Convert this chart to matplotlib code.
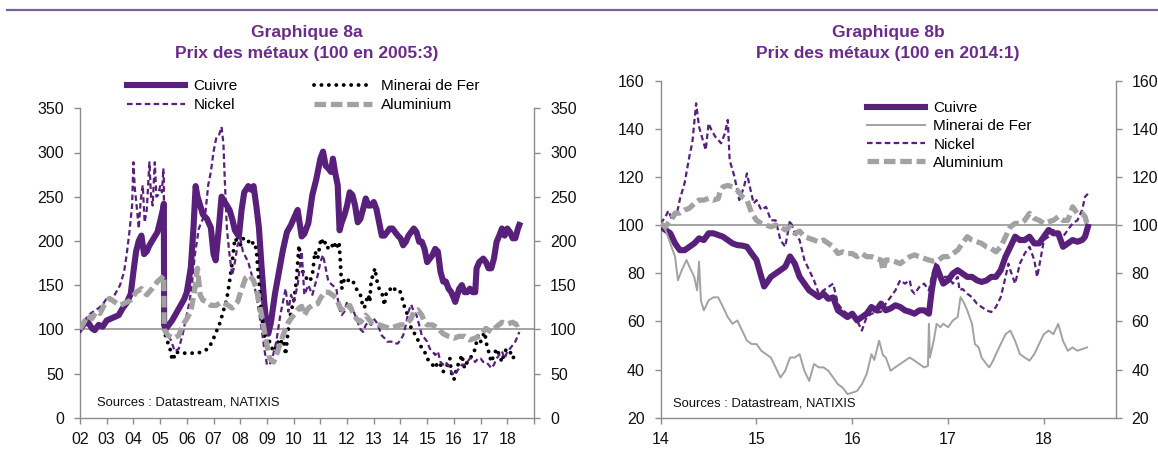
import matplotlib
matplotlib.use("Agg")
import matplotlib.pyplot as plt
from matplotlib.lines import Line2D

plt.rcParams['font.family'] = ['Liberation Sans', 'DejaVu Sans']

# ---------------- Data : Graphique 8a (100 en 2005:3) ----------------
cu_a_t = [2002.0, 2002.15, 2002.3, 2002.45, 2002.55, 2002.7, 2002.85, 2003.0, 2003.15, 2003.3, 2003.45,
          2003.6, 2003.75, 2003.9, 2004.0, 2004.1, 2004.2, 2004.3, 2004.4, 2004.5, 2004.6, 2004.7, 2004.8,
          2004.9, 2005.0, 2005.1, 2005.14, 2005.15, 2005.2, 2005.3, 2005.45, 2005.6, 2005.75, 2005.9,
          2006.0, 2006.15, 2006.25, 2006.33, 2006.4, 2006.5, 2006.6, 2006.75, 2006.9, 2007.0, 2007.08,
          2007.2, 2007.3, 2007.4, 2007.5, 2007.6, 2007.7, 2007.8, 2007.95, 2008.05, 2008.15, 2008.3,
          2008.4, 2008.5, 2008.6, 2008.7, 2008.8, 2008.9, 2009.0, 2009.05, 2009.15, 2009.3, 2009.45,
          2009.6, 2009.75, 2009.9, 2010.0, 2010.15, 2010.3, 2010.4, 2010.55, 2010.7, 2010.85, 2011.0,
          2011.1, 2011.2, 2011.3, 2011.4, 2011.47, 2011.55, 2011.65, 2011.72, 2011.8, 2011.9, 2012.0,
          2012.1, 2012.2, 2012.3, 2012.4, 2012.5, 2012.6, 2012.7, 2012.8, 2012.9, 2013.0, 2013.1, 2013.2,
          2013.3, 2013.4, 2013.5, 2013.6, 2013.7, 2013.8, 2013.9, 2014.0, 2014.1, 2014.2, 2014.3, 2014.4,
          2014.5, 2014.6, 2014.7, 2014.8, 2014.9, 2015.0, 2015.1, 2015.2, 2015.3, 2015.4, 2015.5, 2015.6,
          2015.7, 2015.8, 2015.9, 2016.0, 2016.05, 2016.2, 2016.3, 2016.4, 2016.5, 2016.6, 2016.7,
          2016.8, 2016.85, 2016.95, 2017.1, 2017.2, 2017.3, 2017.4, 2017.5, 2017.6, 2017.7, 2017.8,
          2017.9, 2018.0, 2018.1, 2018.2, 2018.3, 2018.4, 2018.45]
cu_a_v = [100, 106, 108, 101, 99, 105, 103, 110, 112, 114, 116,
          124, 130, 140, 165, 188, 200, 206, 185, 188, 195, 200, 205,
          210, 222, 235, 242, 105, 100, 104, 110, 118, 126, 134,
          142, 170, 215, 262, 250, 240, 230, 225, 215, 185, 178,
          215, 250, 245, 240, 235, 225, 212, 205, 235, 255, 262,
          258, 262, 240, 215, 170, 130, 100, 95, 108, 140, 165,
          190, 210, 218, 225, 235, 205, 208, 220, 252, 270, 293,
          301, 285, 282, 278, 293, 278, 263, 212, 221, 229, 240,
          255, 252, 240, 221, 225, 236, 248, 240, 240, 244, 236, 221,
          206, 206, 210, 214, 214, 210, 206, 203, 195, 199, 206, 210,
          214, 210, 199, 199, 191, 176, 180, 184, 191, 188, 165, 154,
          154, 146, 142, 135, 131, 146, 150, 142, 142, 146, 142,
          142, 169, 176, 180, 176, 169, 169, 180, 199, 206, 214,
          206, 214, 210, 203, 203, 214, 218]

fe_a_t = [2005.2, 2005.3, 2005.4, 2005.45, 2005.5, 2005.6, 2005.7, 2005.85, 2006.0, 2006.2, 2006.4,
          2006.6, 2006.8, 2006.95, 2007.1, 2007.25, 2007.4, 2007.5, 2007.6, 2007.7, 2007.8, 2007.9,
          2008.0, 2008.1, 2008.2, 2008.3, 2008.4, 2008.5, 2008.6, 2008.7, 2008.8, 2008.9, 2009.0,
          2009.1, 2009.2, 2009.3, 2009.4, 2009.5, 2009.6, 2009.7, 2009.8, 2009.9, 2010.0, 2010.1,
          2010.2, 2010.3, 2010.4, 2010.5, 2010.6, 2010.7, 2010.8, 2010.9, 2011.0, 2011.05, 2011.1,
          2011.2, 2011.3, 2011.4, 2011.5, 2011.6, 2011.7, 2011.75, 2011.8, 2011.9, 2012.0, 2012.1,
          2012.2, 2012.3, 2012.4, 2012.5, 2012.55, 2012.65, 2012.7, 2012.8, 2012.85, 2012.9, 2013.0,
          2013.05, 2013.1, 2013.2, 2013.3, 2013.4, 2013.45, 2013.5, 2013.6, 2013.7, 2013.8, 2013.9,
          2014.0, 2014.1, 2014.2, 2014.3, 2014.4, 2014.5, 2014.6, 2014.7, 2014.8, 2014.9, 2015.0,
          2015.1, 2015.2, 2015.3, 2015.4, 2015.5, 2015.6, 2015.7, 2015.8, 2015.85, 2015.9, 2016.0,
          2016.05, 2016.1, 2016.2, 2016.3, 2016.35, 2016.4, 2016.5, 2016.6, 2016.7, 2016.8, 2016.85,
          2016.9, 2017.0, 2017.1, 2017.15, 2017.2, 2017.3, 2017.4, 2017.5, 2017.6, 2017.7, 2017.8,
          2017.9, 2018.0, 2018.1, 2018.2, 2018.3, 2018.4]
fe_a_v = [93, 84, 75, 65, 67, 75, 73, 73, 73, 73, 73,
          75, 78, 86, 97, 108, 124, 135, 154, 176, 203, 199,
          195, 203, 199, 200, 195, 199, 191, 154, 116, 93, 90,
          86, 78, 75, 86, 82, 93, 71, 101, 120, 131, 154,
          195, 169, 161, 157, 154, 161, 188, 180, 199, 203, 195,
          199, 191, 191, 199, 191, 199, 176, 146, 157, 154, 157,
          155, 150, 142, 139, 131, 124, 131, 139, 131, 154, 165,
          169, 157, 146, 142, 127, 139, 142, 146, 142, 146, 146,
          142, 131, 120, 116, 101, 97, 90, 86, 78, 75, 67,
          63, 60, 56, 63, 60, 52, 56, 63, 67, 52, 43,
          48, 56, 63, 71, 63, 56, 63, 67, 71, 78, 86,
          93, 86, 93, 101, 86, 75, 63, 71, 78, 71, 63,
          75, 78, 75, 67, 71, 69]

ni_a_t = [2002.0, 2002.15, 2002.3, 2002.5, 2002.7, 2002.85, 2003.0, 2003.15, 2003.3, 2003.5, 2003.65,
          2003.75, 2003.85, 2003.95, 2004.0, 2004.05, 2004.12, 2004.2, 2004.27, 2004.35, 2004.42, 2004.5,
          2004.6, 2004.66, 2004.72, 2004.8, 2004.86, 2004.93, 2005.0, 2005.07, 2005.12, 2005.14, 2005.15,
          2005.25, 2005.4, 2005.55, 2005.7, 2005.85, 2005.95, 2006.1, 2006.2, 2006.3, 2006.45, 2006.6,
          2006.7, 2006.8, 2006.9, 2007.0, 2007.1, 2007.2, 2007.3, 2007.37, 2007.42, 2007.5, 2007.6,
          2007.7, 2007.8, 2007.9, 2008.0, 2008.1, 2008.3, 2008.5, 2008.6, 2008.7, 2008.8, 2008.9, 2009.0,
          2009.1, 2009.2, 2009.35, 2009.5, 2009.6, 2009.7, 2009.8, 2009.9, 2010.0, 2010.15, 2010.3,
          2010.4, 2010.55, 2010.7, 2010.9, 2011.0, 2011.1, 2011.2, 2011.3, 2011.45, 2011.6, 2011.7,
          2011.8, 2011.9, 2012.0, 2012.1, 2012.2, 2012.3, 2012.4, 2012.5, 2012.6, 2012.7, 2012.8, 2012.9,
          2013.0, 2013.1, 2013.2, 2013.3, 2013.4, 2013.5, 2013.7, 2013.8, 2013.9, 2014.0, 2014.1, 2014.2,
          2014.3, 2014.4, 2014.5, 2014.6, 2014.7, 2014.8, 2014.9, 2015.0, 2015.1, 2015.2, 2015.3, 2015.4,
          2015.5, 2015.6, 2015.7, 2015.8, 2015.9, 2016.0, 2016.1, 2016.2, 2016.3, 2016.4, 2016.5, 2016.6,
          2016.7, 2016.8, 2016.9, 2017.0, 2017.1, 2017.2, 2017.3, 2017.4, 2017.5, 2017.6, 2017.7, 2017.8,
          2017.9, 2018.0, 2018.1, 2018.2, 2018.3, 2018.4, 2018.45]
ni_a_v = [100, 108, 116, 120, 124, 128, 135, 132, 139, 150, 165,
          185, 210, 240, 289, 260, 240, 214, 245, 263, 221, 235,
          289, 250, 240, 289, 250, 252, 262, 255, 282, 270, 100,
          95, 88, 75, 78, 95, 110, 131, 154, 184, 214, 225,
          233, 263, 278, 301, 316, 319, 329, 310, 270, 214, 184,
          161, 176, 195, 203, 188, 176, 154, 139, 120, 101, 78, 60,
          60, 67, 86, 116, 131, 146, 120, 139, 131, 150, 188,
          139, 150, 139, 161, 176, 184, 169, 154, 150, 146, 124,
          116, 120, 131, 127, 124, 116, 108, 100, 97, 105, 108, 105,
          112, 108, 101, 93, 90, 86, 86, 84, 84, 88, 93, 105,
          120, 128, 120, 116, 105, 93, 90, 86, 78, 75, 71, 75,
          63, 60, 63, 58, 52, 48, 52, 56, 60, 60, 63, 67,
          67, 63, 67, 67, 63, 63, 60, 56, 60, 67, 71, 75,
          67, 75, 78, 82, 86, 93, 97]

al_a_t = [2002.0, 2002.15, 2002.3, 2002.45, 2002.6, 2002.75, 2002.9, 2003.1, 2003.3, 2003.5, 2003.7,
          2003.9, 2004.1, 2004.3, 2004.5, 2004.7, 2004.9, 2005.05, 2005.14, 2005.15, 2005.3, 2005.5,
          2005.7, 2005.85, 2006.0, 2006.15, 2006.3, 2006.4, 2006.5, 2006.6, 2006.75, 2006.9, 2007.1,
          2007.3, 2007.5, 2007.7, 2007.9, 2008.05, 2008.2, 2008.35, 2008.5, 2008.6, 2008.7, 2008.8,
          2008.95, 2009.1, 2009.25, 2009.4, 2009.6, 2009.8, 2010.0, 2010.2, 2010.3, 2010.4, 2010.55,
          2010.7, 2010.9, 2011.0, 2011.15, 2011.3, 2011.45, 2011.6, 2011.75, 2011.9, 2012.0, 2012.1,
          2012.2, 2012.35, 2012.5, 2012.6, 2012.7, 2012.8, 2012.9, 2013.0, 2013.2, 2013.4, 2013.6,
          2013.8, 2014.0, 2014.2, 2014.4, 2014.5, 2014.65, 2014.8, 2014.9, 2015.0, 2015.2, 2015.4,
          2015.6, 2015.8, 2016.0, 2016.2, 2016.4, 2016.6, 2016.8, 2017.0, 2017.2, 2017.4, 2017.6,
          2017.8, 2018.0, 2018.2, 2018.35, 2018.45]
al_a_v = [100, 108, 116, 112, 120, 118, 127, 135, 131, 127, 130,
          133, 142, 146, 139, 146, 154, 158, 161, 100, 93, 90,
          93, 105, 112, 120, 146, 169, 139, 133, 131, 127, 127,
          131, 128, 124, 131, 145, 158, 161, 155, 146, 131, 116,
          90, 67, 63, 75, 93, 108, 116, 124, 126, 116, 124,
          127, 129, 135, 142, 142, 139, 135, 124, 120, 124, 127,
          120, 112, 108, 112, 116, 112, 108, 108, 105, 103, 101,
          103, 105, 105, 112, 120, 122, 116, 108, 105, 105, 101,
          95, 92, 90, 92, 92, 88, 90, 93, 101, 97, 103,
          108, 106, 108, 105, 107]

# ---------------- Data : Graphique 8b (100 en 2014:1) ----------------
cu_b_t = [2014.0, 2014.05, 2014.1, 2014.15, 2014.2, 2014.25, 2014.3, 2014.35, 2014.4, 2014.45, 2014.5,
          2014.55, 2014.6, 2014.65, 2014.7, 2014.75, 2014.8, 2014.85, 2014.9, 2014.95, 2015.0, 2015.05,
          2015.08, 2015.15, 2015.2, 2015.25, 2015.3, 2015.35, 2015.4, 2015.45, 2015.5, 2015.55, 2015.6,
          2015.65, 2015.7, 2015.75, 2015.8, 2015.85, 2015.9, 2015.95, 2016.0, 2016.05, 2016.1, 2016.15,
          2016.2, 2016.25, 2016.3, 2016.35, 2016.4, 2016.45, 2016.5, 2016.55, 2016.6, 2016.65, 2016.7,
          2016.75, 2016.8, 2016.83, 2016.86, 2016.88, 2016.92, 2016.95, 2017.0, 2017.05, 2017.1, 2017.15,
          2017.2, 2017.25, 2017.3, 2017.35, 2017.4, 2017.45, 2017.5, 2017.55, 2017.6, 2017.65, 2017.7,
          2017.75, 2017.8, 2017.85, 2017.9, 2017.95, 2018.0, 2018.05, 2018.1, 2018.15, 2018.2, 2018.25,
          2018.3, 2018.35, 2018.4, 2018.43, 2018.46]
cu_b_v = [99.4, 98, 96.6, 92.4, 89.6, 89.6, 91, 92.4, 94.5, 93.8, 96.6,
          96.6, 95.9, 95.2, 93.8, 92.4, 91.7, 91.5, 91, 88.2, 85.5, 78.5,
          74.5, 78.5, 79.9, 81.3, 82.7, 87, 84, 78.5, 75.7, 72.9, 71.5,
          70.1, 71.5, 69.4, 70, 64.6, 63.2, 61.8, 63.2, 60.4, 61.8, 63.2,
          66, 64.6, 67.4, 64.6, 65.4, 66.7, 66, 64.6, 64, 63.2, 64.6,
          64.6, 63.2, 73, 80, 82.7, 78.5, 75.7, 77.1, 79.9, 81.3, 79.9,
          78.5, 78.5, 77.1, 76.4, 77, 78.5, 78.5, 81.3, 86.9, 91, 95.2,
          93.8, 93.8, 95.2, 92.4, 92.4, 95.2, 98, 96.6, 96.6, 91, 92.4,
          93.8, 93.1, 93.8, 95.2, 99.3]

fe_b_t = [2014.0, 2014.05, 2014.1, 2014.15, 2014.18, 2014.22, 2014.27, 2014.3, 2014.35, 2014.38, 2014.4,
          2014.42, 2014.45, 2014.5, 2014.55, 2014.6, 2014.65, 2014.7, 2014.75, 2014.8, 2014.85, 2014.9,
          2014.95, 2015.0, 2015.05, 2015.1, 2015.15, 2015.2, 2015.25, 2015.3, 2015.35, 2015.4, 2015.45,
          2015.5, 2015.55, 2015.6, 2015.65, 2015.7, 2015.75, 2015.8, 2015.85, 2015.9, 2015.95, 2016.0,
          2016.05, 2016.1, 2016.15, 2016.2, 2016.23, 2016.28, 2016.32, 2016.35, 2016.4, 2016.45, 2016.5,
          2016.55, 2016.6, 2016.65, 2016.7, 2016.75, 2016.79, 2016.8, 2016.81, 2016.85, 2016.88, 2016.92,
          2016.95, 2017.0, 2017.05, 2017.1, 2017.13, 2017.17, 2017.2, 2017.25, 2017.28, 2017.32, 2017.35,
          2017.4, 2017.43, 2017.47, 2017.5, 2017.55, 2017.6, 2017.65, 2017.7, 2017.75, 2017.8, 2017.85,
          2017.9, 2017.95, 2018.0, 2018.05, 2018.1, 2018.15, 2018.2, 2018.25, 2018.3, 2018.35, 2018.4,
          2018.45]
fe_b_v = [100.7, 98, 92.4, 86.9, 77.1, 81.3, 85.5, 82.7, 78.5, 72.9, 84.8,
          68.7, 64.6, 68.7, 70, 70, 66, 61.8, 59, 60.4, 56.2, 52,
          50.6, 50.6, 47.8, 46.4, 45, 40.9, 36.7, 39.5, 45, 45, 46.4,
          39.5, 35.3, 42.3, 40.9, 40.9, 39.5, 36.7, 33.9, 32.5, 29.8, 30.4,
          31.1, 33.9, 38.1, 46.4, 44, 52, 46, 45, 39.5, 41, 42.3,
          43.7, 45, 43.7, 42.3, 40.9, 41.5, 59, 45, 51.9, 59, 57.6,
          59, 57.6, 60.4, 61.8, 70.1, 67.4, 64.6, 59, 50.6, 49.2, 45,
          42.3, 40.9, 43.7, 46.4, 50.6, 54.7, 56.2, 51.9, 46.4, 45, 43.7,
          46.4, 50.6, 54.7, 56.2, 54.7, 59, 51.9, 47.8, 49.2, 47.8, 48.5,
          49.2]

ni_b_t = [2014.0, 2014.05, 2014.08, 2014.12, 2014.17, 2014.2, 2014.25, 2014.3, 2014.33, 2014.37, 2014.4,
          2014.43, 2014.47, 2014.5, 2014.53, 2014.57, 2014.6, 2014.63, 2014.67, 2014.7, 2014.72, 2014.77,
          2014.82, 2014.87, 2014.9, 2014.93, 2014.97, 2015.0, 2015.05, 2015.1, 2015.15, 2015.2, 2015.25,
          2015.3, 2015.35, 2015.4, 2015.45, 2015.5, 2015.55, 2015.6, 2015.65, 2015.7, 2015.75, 2015.8,
          2015.85, 2015.9, 2015.95, 2016.0, 2016.05, 2016.1, 2016.15, 2016.2, 2016.3, 2016.35, 2016.4,
          2016.45, 2016.5, 2016.55, 2016.6, 2016.62, 2016.65, 2016.7, 2016.75, 2016.8, 2016.83, 2016.87,
          2016.9, 2016.95, 2017.0, 2017.05, 2017.1, 2017.12, 2017.15, 2017.2, 2017.25, 2017.3, 2017.35,
          2017.4, 2017.45, 2017.5, 2017.55, 2017.6, 2017.63, 2017.65, 2017.7, 2017.75, 2017.8, 2017.85,
          2017.9, 2017.93, 2017.97, 2018.0, 2018.05, 2018.1, 2018.15, 2018.2, 2018.25, 2018.3, 2018.35,
          2018.4, 2018.43, 2018.46]
ni_b_v = [100.7, 103.5, 106, 102, 105, 110.7, 117.6, 128.7, 134.3, 150.6, 140.9,
          136.7, 131.2, 142.3, 139.5, 136.7, 135.4, 134, 138.1, 143.7, 127, 120.1,
          110.4, 115.9, 121.5, 116, 109, 110.4, 106.3, 107.6, 102, 102, 93.8,
          91, 102, 96.6, 93.8, 85.5, 81.3, 77.1, 71.5, 72.9, 74.3, 75.7,
          67.4, 64.6, 63.2, 61.8, 60.4, 56.2, 61.8, 63.2, 64, 67.4, 70.1,
          72.9, 77.1, 75.7, 77.1, 72.9, 71.5, 74.3, 75.7, 72.9, 78.5, 84,
          81.3, 78.5, 78.5, 75.7, 78.5, 72.9, 73.5, 71.5, 70.1, 67.4, 66,
          64.6, 63.9, 66, 70.1, 78.5, 84, 81.3, 75.7, 84, 88.2, 91,
          85.5, 78.5, 86.9, 93.8, 95.2, 98, 96.6, 95.2, 98, 100.7, 102,
          106.3, 111.8, 113]

al_b_t = [2014.0, 2014.05, 2014.1, 2014.15, 2014.2, 2014.25, 2014.3, 2014.35, 2014.4, 2014.45, 2014.5,
          2014.55, 2014.6, 2014.62, 2014.65, 2014.7, 2014.75, 2014.8, 2014.85, 2014.9, 2014.95, 2015.0,
          2015.05, 2015.1, 2015.15, 2015.2, 2015.25, 2015.3, 2015.35, 2015.4, 2015.45, 2015.5, 2015.55,
          2015.6, 2015.65, 2015.7, 2015.75, 2015.8, 2015.85, 2015.9, 2015.95, 2016.0, 2016.05, 2016.1,
          2016.15, 2016.2, 2016.25, 2016.3, 2016.32, 2016.35, 2016.4, 2016.45, 2016.5, 2016.55, 2016.6,
          2016.65, 2016.7, 2016.75, 2016.8, 2016.85, 2016.9, 2016.95, 2017.0, 2017.05, 2017.1, 2017.15,
          2017.2, 2017.25, 2017.3, 2017.35, 2017.4, 2017.45, 2017.5, 2017.55, 2017.6, 2017.65, 2017.7,
          2017.75, 2017.8, 2017.85, 2017.9, 2017.95, 2018.0, 2018.05, 2018.1, 2018.15, 2018.2, 2018.25,
          2018.3, 2018.35, 2018.4, 2018.43, 2018.46]
al_b_v = [100.7, 99.3, 102, 105, 105, 106.3, 107, 109, 110.4, 110.4, 111.1,
          110.4, 111, 114, 115.9, 116.5, 115.9, 114.5, 111.8, 110.4, 105, 102,
          100.7, 100, 99.3, 100, 99.3, 98, 99.3, 96.6, 97.5, 95.2, 94.5,
          93.8, 93, 93.8, 92.4, 91, 88.2, 88.9, 88.2, 88.2, 86.9, 88.2,
          86.9, 86.9, 86.2, 85.5, 81.3, 85.5, 85.5, 84.8, 84, 85.5, 86.9,
          87.6, 86.9, 86.2, 85.5, 85, 85.5, 86.9, 86.9, 88.2, 89.6, 92.4,
          95.2, 93.8, 93.1, 92.4, 91, 90.3, 88.9, 91, 95.2, 99.3, 100.7,
          100.7, 102, 104.9, 102.8, 102, 100.7, 101.4, 102, 103.5, 102, 102,
          107.6, 104.9, 104.9, 103.5, 99.3]

# ---------------- Axis / text content ----------------
years_a = list(range(2002, 2020))
labels_a = ['02', '03', '04', '05', '06', '07', '08', '09', '10', '11', '12', '13', '14', '15', '16', '17', '18', '']
years_b = [2014, 2015, 2016, 2017, 2018]
labels_b = ['14', '15', '16', '17', '18']
yt_a = [0, 50, 100, 150, 200, 250, 300, 350]
yt_b = [20, 40, 60, 80, 100, 120, 140, 160]
names = ['Cuivre', 'Minerai de Fer', 'Nickel', 'Aluminium']
title_a = ['Graphique 8a', 'Prix des métaux (100 en 2005:3)']
title_b = ['Graphique 8b', 'Prix des métaux (100 en 2014:1)']
source = 'Sources : Datastream, NATIXIS'

# ---------------- Styles ----------------
W, H = 1158, 455
PURPLE = '#58207A'
GREY = '#A2A2A2'
AXGREY = '#8C8C8C'
TITLE = '#6A2B8C'

fig = plt.figure(figsize=(W / 100, H / 100), dpi=100)
fig.patch.set_facecolor('white')


def px_axes(x0, x1, ytop, ybot):
    return fig.add_axes([x0 / W, 1 - ybot / H, (x1 - x0) / W, (ybot - ytop) / H])


ax1 = px_axes(80, 534, 108.3, 417.7)
ax2 = px_axes(660.7, 1115.7, 80.7, 417.7)


def style(ax, xt, xl, yt):
    for s in ['left', 'right', 'bottom']:
        ax.spines[s].set_color(AXGREY)
        ax.spines[s].set_linewidth(1.0)
    ax.spines['top'].set_visible(False)
    ax.set_xticks(xt)
    ax.set_xticklabels(xl)
    ax.set_yticks(yt)
    ax.tick_params(axis='y', which='both', left=True, right=True, labelleft=True, labelright=True,
                   direction='out', length=4, width=1.0, color=AXGREY, labelsize=11.5, pad=7.5,
                   labelcolor='#111111')
    ax.tick_params(axis='x', direction='out', length=4, width=1.0, color=AXGREY, labelsize=11.5,
                   pad=6.5, labelcolor='#111111')
    ax.axhline(100, color=AXGREY, lw=1.1, zorder=1)


style(ax1, years_a, labels_a, yt_a)
ax1.set_xlim(2002, 2019)
ax1.set_ylim(0, 350)

style(ax2, years_b, labels_b, yt_b)
ax2.set_xlim(2014, 2018.75)
ax2.set_ylim(20, 160)

# Graphique 8a series
h_cu, = ax1.plot(cu_a_t, cu_a_v, color=PURPLE, lw=4.4, solid_joinstyle='round', label=names[0], zorder=3)
h_fe, = ax1.plot(fe_a_t, fe_a_v, color='black', lw=2.8, linestyle=(0, (0.01, 1.9)),
                 dash_capstyle='round', label=names[1], zorder=4)
h_ni, = ax1.plot(ni_a_t, ni_a_v, color=PURPLE, lw=1.6, linestyle=(0, (2.5, 1.5)), label=names[2], zorder=5)
h_al, = ax1.plot(al_a_t, al_a_v, color=GREY, lw=3.8, linestyle=(0, (2.2, 0.9)), label=names[3], zorder=6)

# Graphique 8b series
g_cu, = ax2.plot(cu_b_t, cu_b_v, color=PURPLE, lw=4.4, solid_joinstyle='round', label=names[0], zorder=3)
g_fe, = ax2.plot(fe_b_t, fe_b_v, color=GREY, lw=1.4, label=names[1], zorder=4)
g_ni, = ax2.plot(ni_b_t, ni_b_v, color=PURPLE, lw=1.6, linestyle=(0, (2.5, 1.5)), label=names[2], zorder=5)
g_al, = ax2.plot(al_b_t, al_b_v, color=GREY, lw=3.8, linestyle=(0, (2.2, 0.9)), label=names[3], zorder=6)

# Legends
leg1 = fig.legend([h_cu, h_ni, h_fe, h_al], [names[0], names[2], names[1], names[3]], ncol=2,
                  loc='upper left', bbox_to_anchor=(127 / W, 1 - 79 / H), frameon=False,
                  fontsize=11, handlelength=3.8, handletextpad=0.55, columnspacing=5.0,
                  labelspacing=0.33, borderpad=0, borderaxespad=0)
leg2 = fig.legend([g_cu, g_fe, g_ni, g_al], names, ncol=1,
                  loc='upper left', bbox_to_anchor=(867 / W, 1 - 101 / H), frameon=False,
                  fontsize=11, handlelength=3.8, handletextpad=0.55,
                  labelspacing=0.28, borderpad=0, borderaxespad=0)

# Titles
for (cx, lines) in [(307, title_a), (888, title_b)]:
    fig.text(cx / W, 1 - 32.5 / H, lines[0], ha='center', va='center', fontsize=12.5,
             fontweight='bold', color=TITLE)
    fig.text(cx / W, 1 - 53.5 / H, lines[1], ha='center', va='center', fontsize=12.5,
             fontweight='bold', color=TITLE)

# Sources
fig.text(97 / W, 1 - 402.7 / H, source, ha='left', va='center', fontsize=9.4, color='#111111')
fig.text(673 / W, 1 - 404 / H, source, ha='left', va='center', fontsize=9.4, color='#111111')

# Top rule
fig.add_artist(Line2D([7 / W, 1.0], [1 - 10 / H, 1 - 10 / H], transform=fig.transFigure,
                      color='#7E5C9C', lw=1.6))

fig.savefig('out.png', dpi=100, facecolor='white')
